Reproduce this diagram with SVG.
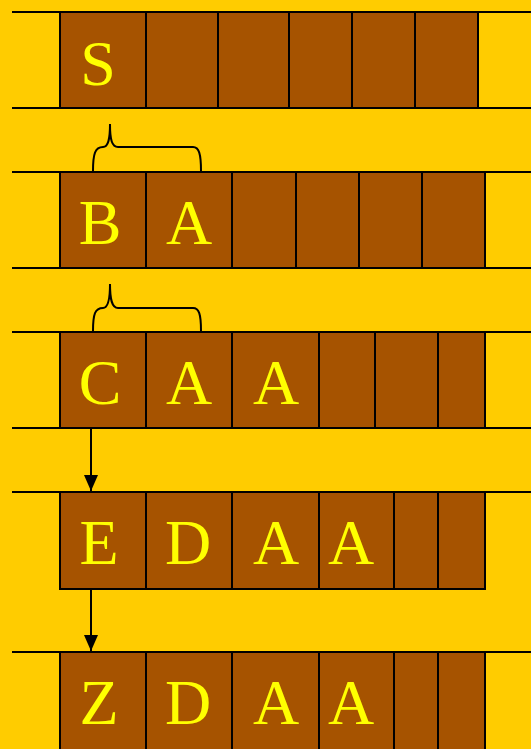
<svg xmlns="http://www.w3.org/2000/svg" width="531" height="749" viewBox="0 0 531 749">
<style>
.cell{fill:#A65300;stroke:#000;stroke-width:2}
.ln{stroke:#000;stroke-width:2;fill:none}
.t{font-family:"Liberation Serif","Times New Roman",serif;font-size:64px;fill:#FFFF00;text-anchor:middle}
</style>
<defs>
<marker id="ah" markerWidth="8" markerHeight="8" refX="8" refY="4" orient="auto" markerUnits="userSpaceOnUse" viewBox="0 0 8 8">
<path d="M0,0 L8,4 L0,8 Z" fill="#000"/>
</marker>
<marker id="ah2" viewBox="0 0 16 16" refX="16" refY="8" markerWidth="16" markerHeight="16" orient="auto" markerUnits="userSpaceOnUse">
<path d="M0,1 L16,8 L0,15 Z" fill="#000"/>
</marker>
</defs>
<rect width="531" height="749" fill="#FFCC00"/>
<g id="row1">
<line class="ln" x1="12" y1="12" x2="531" y2="12"/>
<line class="ln" x1="12" y1="108" x2="531" y2="108"/>
<rect class="cell" x="60" y="12" width="86" height="96"/>
<rect class="cell" x="146" y="12" width="72" height="96"/>
<rect class="cell" x="218" y="12" width="71" height="96"/>
<rect class="cell" x="289" y="12" width="63" height="96"/>
<rect class="cell" x="352" y="12" width="63" height="96"/>
<rect class="cell" x="415" y="12" width="63" height="96"/>
<text class="t" x="98" y="85">S</text>
</g>
<g id="row2">
<line class="ln" x1="12" y1="172" x2="531" y2="172"/>
<line class="ln" x1="12" y1="268" x2="531" y2="268"/>
<rect class="cell" x="60" y="172" width="86" height="96"/>
<rect class="cell" x="146" y="172" width="86" height="96"/>
<rect class="cell" x="232" y="172" width="64" height="96"/>
<rect class="cell" x="296" y="172" width="63" height="96"/>
<rect class="cell" x="359" y="172" width="63" height="96"/>
<rect class="cell" x="422" y="172" width="63" height="96"/>
<text class="t" x="100" y="244">B</text>
<text class="t" x="189" y="244">A</text>
</g>
<g id="row3">
<line class="ln" x1="12" y1="332" x2="531" y2="332"/>
<line class="ln" x1="12" y1="428" x2="531" y2="428"/>
<rect class="cell" x="60" y="332" width="86" height="96"/>
<rect class="cell" x="146" y="332" width="86" height="96"/>
<rect class="cell" x="232" y="332" width="87" height="96"/>
<rect class="cell" x="319" y="332" width="56" height="96"/>
<rect class="cell" x="375" y="332" width="63" height="96"/>
<rect class="cell" x="438" y="332" width="47" height="96"/>
<text class="t" x="100" y="404">C</text>
<text class="t" x="189" y="404">A</text>
<text class="t" x="276" y="404">A</text>
</g>
<g id="row4">
<line class="ln" x1="12" y1="492" x2="531" y2="492"/>
<rect class="cell" x="60" y="492" width="86" height="97"/>
<rect class="cell" x="146" y="492" width="86" height="97"/>
<rect class="cell" x="232" y="492" width="87" height="97"/>
<rect class="cell" x="319" y="492" width="75" height="97"/>
<rect class="cell" x="394" y="492" width="44" height="97"/>
<rect class="cell" x="438" y="492" width="47" height="97"/>
<text class="t" x="99" y="564">E</text>
<text class="t" x="188" y="564">D</text>
<text class="t" x="276" y="564">A</text>
<text class="t" x="351" y="564">A</text>
</g>
<g id="row5">
<line class="ln" x1="12" y1="652" x2="531" y2="652"/>
<rect class="cell" x="60" y="652" width="86" height="110"/>
<rect class="cell" x="146" y="652" width="86" height="110"/>
<rect class="cell" x="232" y="652" width="87" height="110"/>
<rect class="cell" x="319" y="652" width="75" height="110"/>
<rect class="cell" x="394" y="652" width="44" height="110"/>
<rect class="cell" x="438" y="652" width="47" height="110"/>
<text class="t" x="99" y="724">Z</text>
<text class="t" x="188" y="724">D</text>
<text class="t" x="276" y="724">A</text>
<text class="t" x="351" y="724">A</text>
</g>
<g id="connectors">
<path class="ln" d="M93,171 C93,154 95,147 103,147 C108,147 110,140 110,124 C110,140 112,147 118,147 L193,147 C199,147 201,154 201,171"/>
<path class="ln" d="M93,331 C93,314 95,308 103,308 C108,308 110,300 110,284 C110,300 112,308 118,308 L193,308 C199,308 201,314 201,331"/>
<line class="ln" x1="91" y1="429" x2="91" y2="491" marker-end="url(#ah2)"/>
<line class="ln" x1="91" y1="590" x2="91" y2="651" marker-end="url(#ah2)"/>
</g>
</svg>
